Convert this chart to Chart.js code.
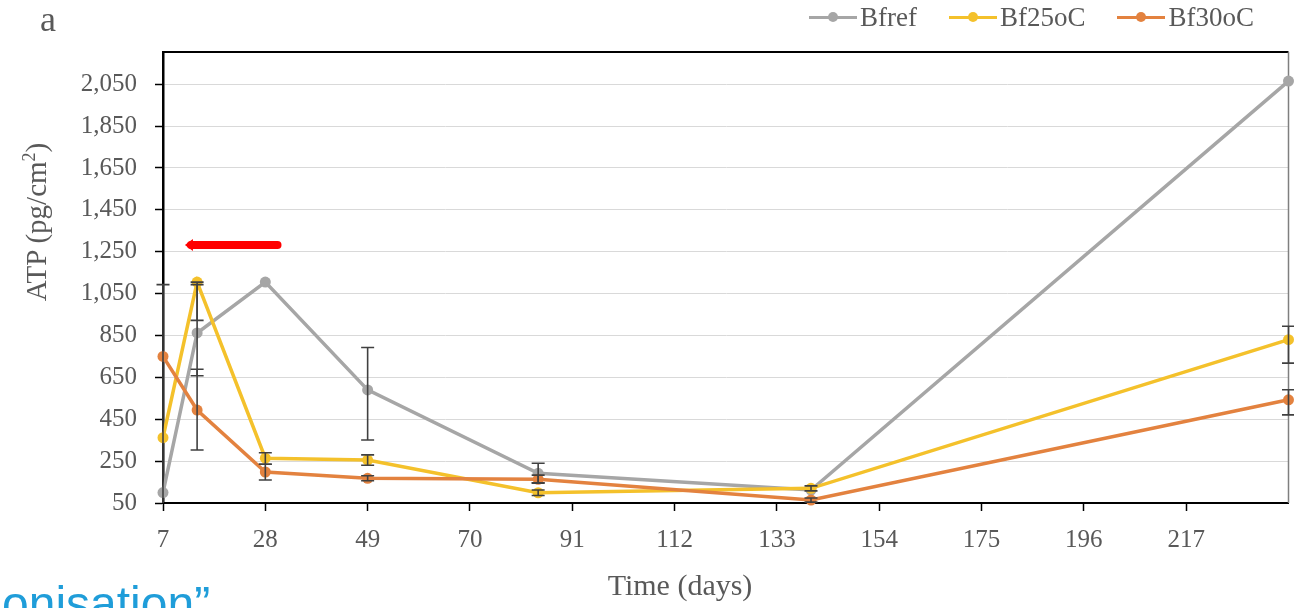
<!DOCTYPE html>
<html><head><meta charset="utf-8">
<script src="https://cdn.jsdelivr.net/npm/chart.js@4.4.1/dist/chart.umd.min.js"></script>
<style>
html,body{margin:0;padding:0;background:#fff;width:1294px;height:608px;overflow:hidden;position:relative;font-family:"Liberation Serif","Times New Roman",serif;}
#c{position:absolute;left:0;top:0;}
.t{position:absolute;color:#595959;white-space:nowrap;line-height:1;}
#panel{left:40px;top:1px;font-size:36px;}
#ytitle{left:36px;top:222px;font-size:29px;transform:translate(-50%,-50%) rotate(-90deg);}
#ytitle sup{font-size:18px;vertical-align:top;position:relative;top:-2px;}
#xtitle{left:680px;top:570px;font-size:30px;transform:translateX(-50%);}
#legend{position:absolute;left:809px;top:2px;display:flex;align-items:center;height:30px;}
.li{display:flex;align-items:center;margin-right:32px;}
.ln{position:relative;width:48px;height:3px;}
.dot{position:absolute;left:50%;top:50%;width:10px;height:10px;border-radius:50%;transform:translate(-50%,-50%);}
.lt{margin-left:3px;font-size:27px;color:#595959;line-height:1;}
#note{position:absolute;left:2px;top:580px;font-family:"Liberation Sans",Arial,sans-serif;font-size:48px;line-height:48px;color:#1f9dd9;white-space:nowrap;}
</style></head><body>
<canvas id="c" width="1294" height="608"></canvas>
<div class="t" id="panel">a</div>
<div class="t" id="ytitle">ATP (pg/cm<sup>2</sup>)</div>
<div class="t" id="xtitle">Time (days)</div>
<div id="legend"></div>
<div id="note">onisation”</div>
<script>
// ---- data ----
const days = [7, 14, 28, 49, 84, 140, 238];
const seriesNames = ['Bfref', 'Bf25oC', 'Bf30oC'];
const bfref = [100, 862, 1105, 590, 192, 112, 2065];
const bf25oC = [362, 1105, 264, 255, 99, 120, 830];
const bf30oC = [750, 494, 198, 168, 163, 64, 543];
const bfrefErrLow  = [-900, 658, null, 351, 147, null, null];
const bfrefErrHigh = [1093, 1093, null, 793, 240, null, null];
const bf25oCErrLow  = [null, 922, 235, 230, 86, 108, 718];
const bf25oCErrHigh = [null, 1105, 290, 280, 112, 132, 894];
const bf30oCErrLow  = [null, 303, 160, 156, 145, 54, 471];
const bf30oCErrHigh = [null, 689, 235, 180, 183, 74, 591];
const xTicks = [7, 28, 49, 70, 91, 112, 133, 154, 175, 196, 217];
const yTicks = [50, 250, 450, 650, 850, 1050, 1250, 1450, 1650, 1850, 2050];
const xMin = 7, xMax = 238, yMin = 50, yMax = 2204;
const arrowDays = [30.5, 11.5];   // from, to (arrow points left)
const arrowValue = 1282;

const colors = ['#a6a6a6', '#f4c12b', '#e3823f'];
const values = [bfref, bf25oC, bf30oC];
const errLow = [bfrefErrLow, bf25oCErrLow, bf30oCErrLow];
const errHigh = [bfrefErrHigh, bf25oCErrHigh, bf30oCErrHigh];

// legend
const leg = document.getElementById('legend');
seriesNames.forEach((n, i) => {
  const it = document.createElement('div'); it.className = 'li';
  const ln = document.createElement('div'); ln.className = 'ln'; ln.style.background = colors[i];
  const d = document.createElement('div'); d.className = 'dot'; d.style.background = colors[i];
  ln.appendChild(d);
  const tx = document.createElement('span'); tx.className = 'lt'; tx.textContent = n;
  it.appendChild(ln); it.appendChild(tx); leg.appendChild(it);
});

const frameAndErr = {
  id: 'frameAndErr',
  beforeDatasetsDraw(chart) {
    const {ctx, chartArea: a} = chart;
    ctx.save();
    ctx.strokeStyle = '#000'; ctx.lineWidth = 2;
    ctx.beginPath(); ctx.moveTo(a.left, a.top); ctx.lineTo(a.right, a.top); ctx.stroke();
    ctx.strokeStyle = '#7f7f7f'; ctx.lineWidth = 1.5;
    ctx.beginPath(); ctx.moveTo(a.right, a.top); ctx.lineTo(a.right, a.bottom); ctx.stroke();
    ctx.restore();
  },
  afterDatasetsDraw(chart) {
    const {ctx, chartArea: a, scales: {x, y}} = chart;
    ctx.save();
    ctx.beginPath(); ctx.rect(a.left - 10, a.top, a.right - a.left + 20, a.bottom - a.top); ctx.clip();
    ctx.strokeStyle = '#404040'; ctx.lineWidth = 1.6;
    errLow.forEach((lo, si) => {
      lo.forEach((l, j) => {
        if (l == null) return;
        const h = errHigh[si][j];
        const px = x.getPixelForValue(days[j]);
        const yl = y.getPixelForValue(l), yh = y.getPixelForValue(h);
        ctx.beginPath();
        ctx.moveTo(px, yl); ctx.lineTo(px, yh);
        ctx.moveTo(px - 6.5, yl); ctx.lineTo(px + 6.5, yl);
        ctx.moveTo(px - 6.5, yh); ctx.lineTo(px + 6.5, yh);
        ctx.stroke();
      });
    });
    ctx.restore();
    // red arrow annotation
    const x1 = x.getPixelForValue(arrowDays[0]), x2 = x.getPixelForValue(arrowDays[1]);
    const ay = y.getPixelForValue(arrowValue);
    ctx.save();
    ctx.strokeStyle = '#ff0000'; ctx.fillStyle = '#ff0000';
    ctx.lineWidth = 8; ctx.lineCap = 'round';
    ctx.beginPath(); ctx.moveTo(x1, ay); ctx.lineTo(x2 + 6, ay); ctx.stroke();
    ctx.beginPath(); ctx.moveTo(x2, ay); ctx.lineTo(x2 + 8, ay - 6); ctx.lineTo(x2 + 8, ay + 6); ctx.closePath(); ctx.fill();
    ctx.restore();
  }
};

const tickFont = {family: '"Liberation Serif", "Times New Roman", serif', size: 25};

new Chart(document.getElementById('c'), {
  type: 'line',
  data: {
    datasets: seriesNames.map((n, i) => ({
      label: n,
      data: days.map((d, j) => ({x: d, y: values[i][j]})),
      borderColor: colors[i],
      backgroundColor: colors[i],
      borderWidth: 3.5,
      pointRadius: 5.5,
      pointBorderWidth: 0,
      pointHoverRadius: 5.5,
      tension: 0,
      clip: false,
      order: 2 - i
    }))
  },
  options: {
    responsive: false,
    devicePixelRatio: 1,
    animation: false,
    layout: {padding: {left: 0, top: 52, right: 3, bottom: 0}},
    plugins: {legend: {display: false}, tooltip: {enabled: false}, title: {display: false}},
    scales: {
      x: {
        type: 'linear', min: xMin, max: xMax,
        afterBuildTicks: (s) => { s.ticks = xTicks.map(v => ({value: v})); },
        afterFit: (s) => { s.height = 105; },
        ticks: {font: tickFont, color: '#595959', padding: 14, maxRotation: 0, autoSkip: false,
          callback: (v) => String(v)},
        grid: {drawOnChartArea: false, drawTicks: true, tickLength: 8, tickColor: '#000', tickWidth: 1.5},
        border: {color: '#000', width: 2}
      },
      y: {
        type: 'linear', min: yMin, max: yMax,
        afterBuildTicks: (s) => { s.ticks = yTicks.map(v => ({value: v})); },
        afterFit: (s) => { s.width = 163; },
        ticks: {font: tickFont, color: '#595959', padding: 18,
          callback: (v) => Number(v).toLocaleString('en-US')},
        grid: {color: '#d9d9d9', lineWidth: 1, drawTicks: true, tickLength: 8, tickColor: '#000', tickWidth: 1.5},
        border: {color: '#000', width: 2.5}
      }
    }
  },
  plugins: [frameAndErr]
});
</script>
</body></html>
